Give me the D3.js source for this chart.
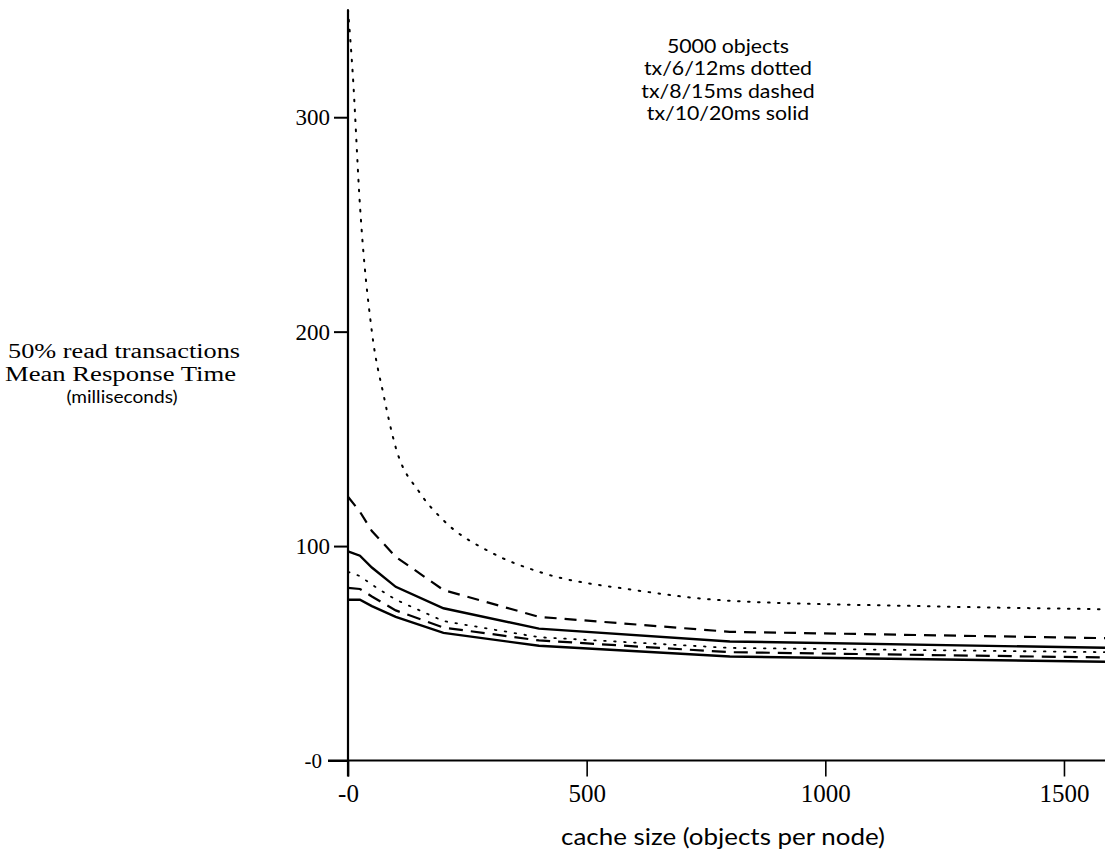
<!DOCTYPE html>
<html>
<head>
<meta charset="utf-8">
<script src="https://cdn.jsdelivr.net/npm/d3@7"></script>
<style>
  html, body { margin: 0; padding: 0; background: #fff; }
  svg { display: block; }
</style>
</head>
<body>
<svg id="chart" width="1105" height="854"></svg>
<script>
// ---- data ----
const cacheSizes = [0, 25, 50, 100, 200, 400, 800, 1600];
const cacheSizesFine = [0, 10, 25, 50, 75, 100, 150, 200, 300, 400, 600, 800, 1200, 1600];

const dottedHigh = [350, 320, 259, 200, 170, 146, 125, 112, 97, 88, 79.5, 74.5, 72, 70.5];
const dottedLow  = [88, 86, 82, 75, 65, 57.5, 52.5, 50.5];
const dashedHigh = [123, 116, 107, 95, 79.5, 67, 60, 57];
const dashedLow  = [80.5, 80, 76.5, 70, 62, 56, 50.5, 48];
const solidHigh  = [97.5, 95.5, 90, 81, 71, 61.5, 55.5, 52.5];
const solidLow   = [75, 75, 72, 67, 59.5, 53.5, 48.5, 46];

const xTickValues = [0, 500, 1000, 1500];
const xTickLabels = ["-0", "500", "1000", "1500"];
const yTickValues = [0, 100, 200, 300];
const yTickLabels = ["-0", "100", "200", "300"];

const legendLines = ["5000 objects", "tx/6/12ms dotted", "tx/8/15ms dashed", "tx/10/20ms solid"];
const yTitleLines = ["50% read transactions", "Mean Response Time", "(milliseconds)"];
const xTitle = "cache size (objects per node)";

// ---- drawing ----
const svg = d3.select("#chart");
const x = d3.scaleLinear().domain([0, 1600]).range([348, 1111.7]);
const y = d3.scaleLinear().domain([0, 350]).range([760.5, 10]);

const serif = "'Liberation Serif', 'Times New Roman', serif";
const sans = "Lato, 'Open Sans', sans-serif";

function stretch(sel, factor) {
  sel.each(function () {
    const len = this.getComputedTextLength();
    d3.select(this).attr("textLength", len * factor).attr("lengthAdjust", "spacingAndGlyphs");
  });
}

// x axis
const xAxis = d3.axisBottom(x)
  .tickValues(xTickValues)
  .tickFormat((d, i) => xTickLabels[i])
  .tickSize(16)
  .tickSizeOuter(0)
  .tickPadding(8);
const gx = svg.append("g").attr("transform", `translate(0,${y(0)})`).call(xAxis);
gx.select(".domain").remove();
gx.append("line").attr("x1", 328).attr("x2", 1105).attr("y1", 0).attr("y2", 0)
  .attr("stroke", "#000").attr("stroke-width", 2);
gx.selectAll(".tick line").attr("stroke", "#000").attr("stroke-width", 1.6);
gx.selectAll(".tick text").attr("fill", "#000").style("font-family", serif).style("font-size", "25px");

// y axis
const yAxis = d3.axisLeft(y)
  .tickValues(yTickValues)
  .tickFormat((d, i) => yTickLabels[i])
  .tickSize(14)
  .tickSizeOuter(0)
  .tickPadding(4);
const gy = svg.append("g").attr("transform", `translate(${x(0)},0)`).call(yAxis);
gy.select(".domain").remove();
gy.append("line").attr("x1", 0).attr("x2", 0).attr("y1", y(350)).attr("y2", y(0) + 16)
  .attr("stroke", "#000").attr("stroke-width", 2.2);
gy.selectAll(".tick line").attr("stroke", "#000").attr("stroke-width", 2);
gy.selectAll(".tick text").attr("fill", "#000").style("font-family", serif).style("font-size", "23px");
const zeroTick = gy.selectAll(".tick").filter(d => d === 0);
zeroTick.select("line").attr("x2", -20);
zeroTick.select("text").attr("x", -26).style("font-size", "21px");

// series
const series = [
  { xs: cacheSizesFine, ys: dottedHigh, dash: "1.6 8.4", w: 2, curve: d3.curveMonotoneX },
  { xs: cacheSizes, ys: dottedLow, dash: "1.6 8.4", w: 1.8, curve: d3.curveLinear },
  { xs: cacheSizes, ys: dashedHigh, dash: "12 8", w: 2.2, curve: d3.curveLinear },
  { xs: cacheSizes, ys: dashedLow, dash: "14 8", w: 2.2, curve: d3.curveLinear },
  { xs: cacheSizes, ys: solidHigh, dash: null, w: 2.4, curve: d3.curveLinear },
  { xs: cacheSizes, ys: solidLow, dash: null, w: 2.4, curve: d3.curveLinear }
];

series.forEach(s => {
  const pts = s.xs.map((xv, i) => [xv, s.ys[i]]);
  const line = d3.line().x(d => x(d[0])).y(d => y(d[1])).curve(s.curve);
  svg.append("path")
    .attr("d", line(pts))
    .attr("fill", "none")
    .attr("stroke", "#000")
    .attr("stroke-width", s.w)
    .attr("stroke-linecap", s.dash && s.dash.startsWith("1.6") ? "round" : "butt")
    .attr("stroke-dasharray", s.dash);
});

// legend text block
const legendText = svg.append("g").selectAll("text").data(legendLines).join("text")
  .attr("x", 728)
  .attr("y", (d, i) => 53 + i * 22.3)
  .attr("text-anchor", "middle")
  .style("font-family", sans)
  .style("font-size", "19px")
  .attr("fill", "#000")
  .text(d => d);
stretch(legendText, 1.12);

// y title
const yt = svg.append("g");
yt.append("text").attr("x", 8).attr("y", 358).attr("textLength", 232).attr("lengthAdjust", "spacingAndGlyphs")
  .style("font-family", serif).style("font-size", "20px").text(yTitleLines[0]);
yt.append("text").attr("x", 5).attr("y", 381).attr("textLength", 231).attr("lengthAdjust", "spacingAndGlyphs")
  .style("font-family", serif).style("font-size", "20px").text(yTitleLines[1]);
yt.append("text").attr("x", 122).attr("y", 403).attr("text-anchor", "middle")
  .style("font-family", sans).style("font-size", "18px").text(yTitleLines[2])
  .call(stretch, 1.06);

// x title
svg.append("text").attr("x", 723).attr("y", 845).attr("text-anchor", "middle")
  .style("font-family", sans).style("font-size", "24px").text(xTitle)
  .call(stretch, 1.08);
</script>
</body>
</html>
